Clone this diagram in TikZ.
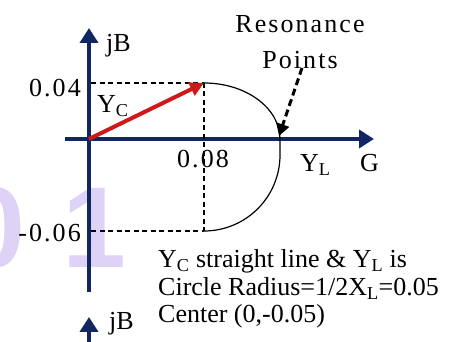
\documentclass[tikz,border=0pt]{standalone}
\usepackage{fontspec}
\setmainfont{Liberation Serif}
\newfontfamily\spacedfont[LetterSpace=8]{Liberation Serif}
\newfontfamily\markfont{Liberation Sans}
\usetikzlibrary{arrows.meta}
\definecolor{axisNavy}{RGB}{18,38,100}
\definecolor{vecRed}{RGB}{205,25,25}
\definecolor{markLilac}{RGB}{222,210,246}
\tikzset{
  axisline/.style={line width=4pt, draw=axisNavy, -{Triangle[length=15pt,width=18pt]}},
  vecline/.style={line width=4pt, draw=vecRed, -{Triangle[length=14pt,width=14pt]}},
  guideline/.style={line width=1.1pt, dash pattern=on 5pt off 3.5pt},
  arcline/.style={line width=1.2pt},
  resline/.style={line width=3pt, dash pattern=on 7pt off 4pt, -{Triangle[length=12pt,width=13pt]}},
  txt/.style={inner sep=0pt, font=\fontsize{26}{27.5}\selectfont},
  numtxt/.style={txt, font=\fontsize{26}{27.5}\selectfont\spacedfont},
  markdigit/.style={inner sep=0pt, text=markLilac, font=\fontsize{115}{115}\selectfont\markfont\bfseries}
}

\begin{document}
\begin{tikzpicture}[x=1pt, y=1pt]
\useasboundingbox (0,0) rectangle (459,342);
% faded background digits
\node[markdigit, anchor=base west] (wmZero) at (-39,74) {0};
\node[markdigit, anchor=base west] (wmOne) at (62,74) {1};
% axes
\coordinate (O) at (89,203);
\coordinate (vAxLow) at (89,50);
\coordinate (vAxTip) at (89,314);
\coordinate (hAxLow) at (65,203);
\coordinate (hAxTip) at (374,203);
\draw[axisline] (vAxLow) -- (vAxTip);
\draw[axisline] (hAxLow) -- (hAxTip);
% guide lines
\coordinate (vecTip) at (204,259);
\coordinate (lowPt) at (204,111);
\coordinate (bTop) at (91,259);
\coordinate (bLow) at (91,111);
\draw[guideline] (bTop) -- (vecTip);
\draw[guideline] (bLow) -- (lowPt);
\draw[guideline] (vecTip) -- (lowPt);
% admittance locus
\draw[arcline] (vecTip) arc[start angle=90, end angle=0, x radius=76, y radius=56]
  coordinate (resPt) -- ++(0,-16) arc[start angle=0, end angle=-90, radius=76];
\draw[vecline] (O) -- (vecTip);
% resonance pointer
\coordinate (resFrom) at (302,274);
\coordinate (resTip) at (279,206);
\draw[resline] (resFrom) -- (resTip);
% labels
\node[txt, anchor=base west] (jB) at (106,290) {jB};
\node[txt, anchor=base west] (yC) at (97,229) {Y\textsubscript{C}};
\node[numtxt, anchor=base east] (bTopLbl) at (81,245) {0.04};
\node[numtxt, anchor=base] (gLbl) at (203,174) {0.08};
\node[numtxt, anchor=base east] (bLowLbl) at (81,100) {-0.06};
\node[txt, anchor=base west] (yL) at (300,170) {Y\textsubscript{L}};
\node[txt, anchor=base west] (gAx) at (360,170) {G};
\node[numtxt, anchor=base] (res) at (300,309) {Resonance};
\node[numtxt, anchor=base] (pts) at (300,273) {Points};
\node[txt, anchor=base west, align=left] (note) at (158,19)
  {Y\textsubscript{C} straight line \& Y\textsubscript{L} is\\
   Circle Radius=1/2X\textsubscript{L}=0.05\\
   Center (0,-0.05)};
% next plot, cut off
\coordinate (nAxLow) at (89,-4);
\coordinate (nAxTip) at (89,25);
\draw[axisline] (nAxLow) -- (nAxTip);
\node[txt, anchor=base west] (jBnext) at (109,12) {jB};
\end{tikzpicture}
\end{document}
